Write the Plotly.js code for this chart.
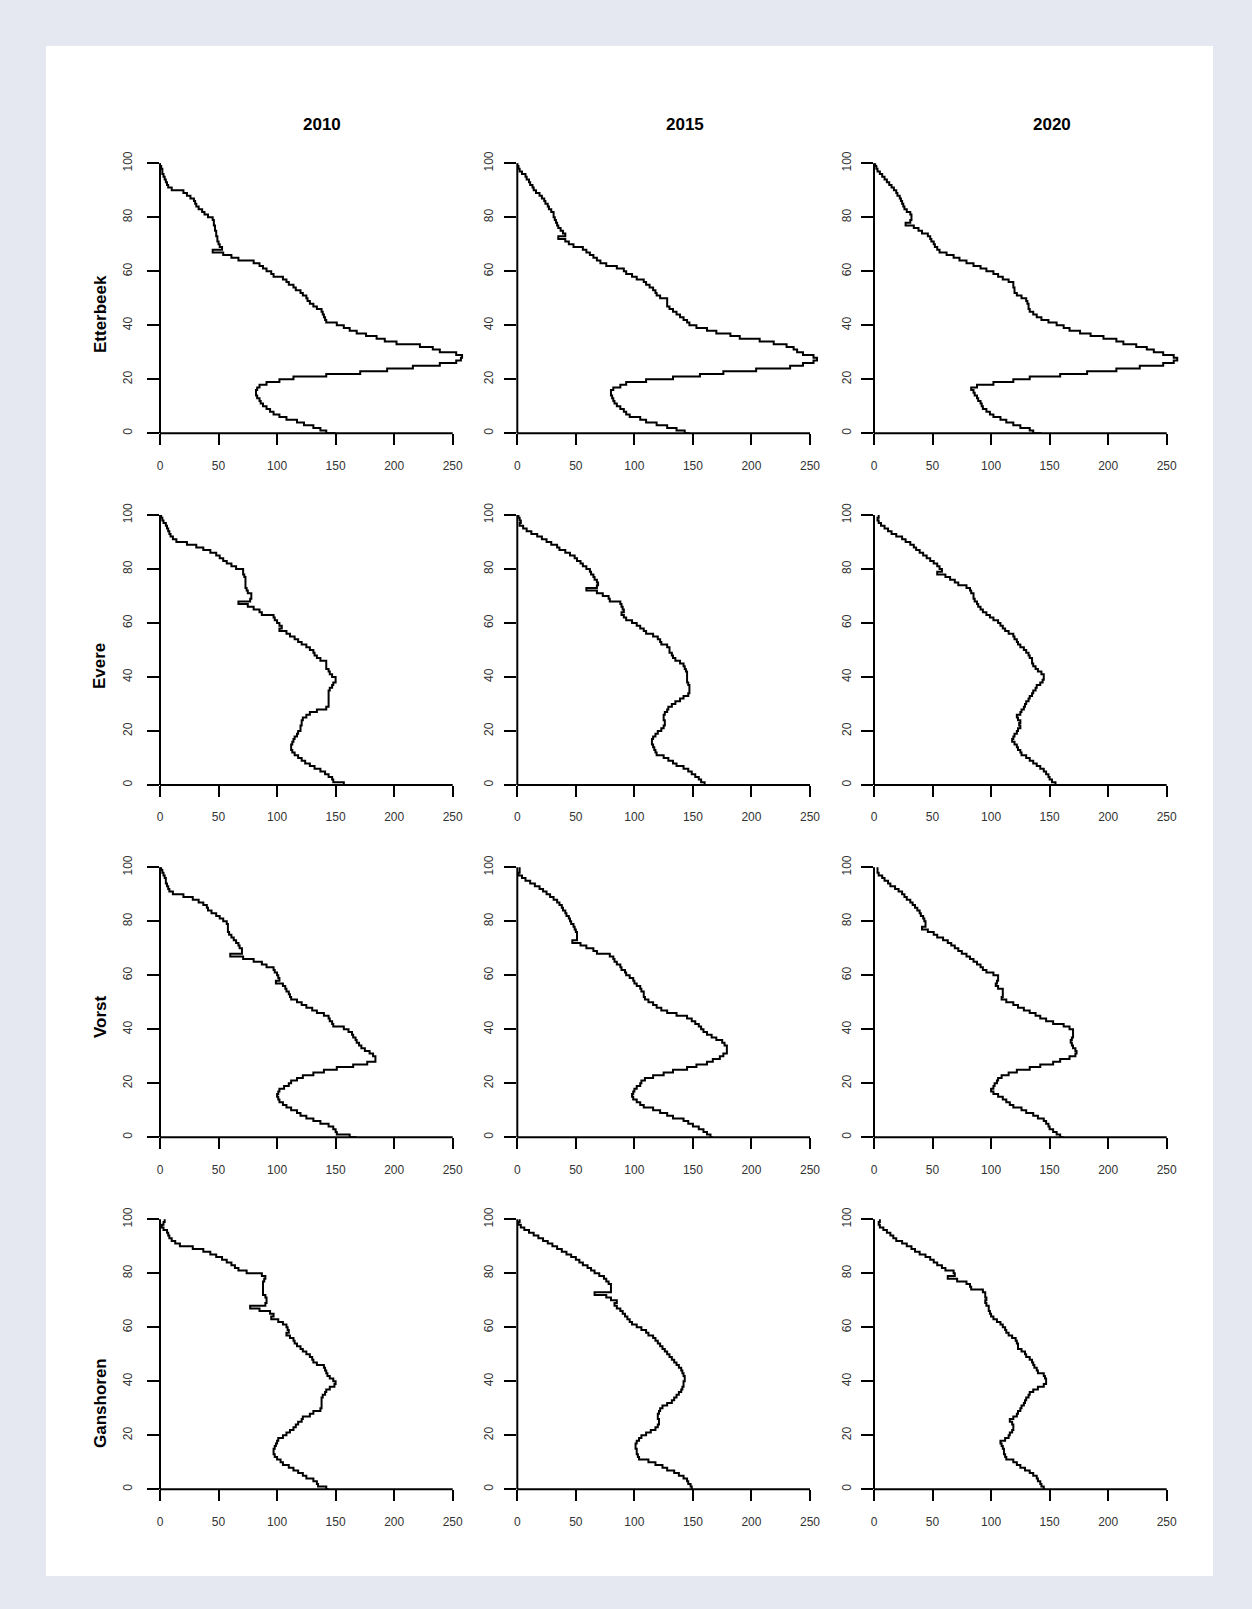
<!DOCTYPE html>
<html>
<head>
<meta charset="utf-8">
<script src="https://cdn.plot.ly/plotly-3.0.1.min.js"></script>
<style>
html,body{margin:0;padding:0;background:#e5e8f0;}
#chart{width:1252px;height:1609px;}
</style>
</head>
<body>
<div id="chart"></div>
<script>
// ---------------- DATA ----------------
const years = ["2010", "2015", "2020"];
const communes = ["Etterbeek", "Evere", "Vorst", "Ganshoren"];
const ages = [0,1,2,3,4,5,6,7,8,9,10,11,12,13,14,15,16,17,18,19,20,21,22,23,24,25,26,27,28,29,30,31,32,33,34,35,36,37,38,39,40,41,42,43,44,45,46,47,48,49,50,51,52,53,54,55,56,57,58,59,60,61,62,63,64,65,66,67,68,69,70,71,72,73,74,75,76,77,78,79,80,81,82,83,84,85,86,87,88,89,90,91,92,93,94,95,96,97,98,99,100];
const xTicks = [0, 50, 100, 150, 200, 250];
const yTicks = [0, 20, 40, 60, 80, 100];

// counts per age (0..100)
const etterbeek2010 = [150,142,137,131,123,117,108,102,97,94, 91,88,86,85,83,82,82,83,85,91, 102,114,142,171,194,216,239,253,257,258, 253,239,233,222,202,192,185,176,168,162, 157,151,142,141,140,139,138,134,131,128, 126,125,122,120,116,114,110,108,105,97, 95,91,88,85,80,67,61,54,45,53, 51,50,49,49,48,48,47,47,46,46, 45,41,38,36,33,31,30,29,26,23, 20,10,7,6,5,4,3,2,2,1, 0];
const etterbeek2015 = [147,143,136,128,119,110,105,96,93,91, 88,85,83,82,81,80,80,82,88,93, 110,133,156,176,204,233,244,253,256,253, 244,239,236,230,219,207,190,182,170,162, 153,147,145,142,139,136,133,130,128,128, 128,122,119,118,116,113,110,108,102,98, 93,91,85,76,71,68,65,62,59,56, 48,44,41,35,41,39,37,35,34,33, 32,31,31,29,27,26,24,23,21,19, 16,14,13,11,10,8,7,4,2,1, 0];
const etterbeek2020 = [143,136,133,125,119,113,108,102,99,96, 93,92,91,89,88,86,85,83,88,102, 119,133,159,182,207,227,247,256,259,256, 247,239,233,224,213,207,196,185,176,167, 162,156,149,143,139,136,133,132,132,131, 130,126,122,120,120,119,119,115,110,106, 102,96,91,85,79,73,68,62,56,54, 52,51,49,48,46,41,38,34,27,31, 32,32,31,28,26,25,24,23,22,20, 19,17,15,13,11,9,7,5,3,2, 1];
const evere2010 = [158,157,148,147,144,141,137,132,128,124, 121,118,115,113,112,112,113,114,115,117, 118,120,120,121,121,122,125,128,134,142, 144,144,144,144,144,144,145,147,148,150, 150,147,145,144,142,142,142,137,134,132, 131,128,125,121,118,115,111,108,102,104, 102,100,98,97,87,85,80,75,67,77, 78,78,75,74,73,73,73,73,72,71, 71,65,61,57,54,51,48,43,37,31, 23,14,11,9,8,7,6,5,3,2, 1];
const evere2015 = [162,160,157,155,152,149,146,142,136,133, 129,125,119,118,117,116,115,115,116,118, 120,123,125,126,126,125,125,126,128,129, 132,135,139,142,146,147,147,147,146,145, 145,145,145,144,143,142,139,135,133,132, 130,130,128,123,122,120,116,110,108,105, 102,98,93,91,89,91,90,89,88,79, 78,73,68,59,68,69,68,66,65,63, 62,59,56,54,51,49,45,41,36,34, 29,25,21,17,12,8,5,2,3,2, 1];
const evere2020 = [157,155,152,150,149,147,145,142,139,136, 133,130,126,125,123,122,120,118,119,120, 122,123,125,124,125,123,122,125,126,128, 129,130,132,133,135,136,138,139,142,144, 145,145,143,140,138,136,135,135,133,132, 130,128,125,123,122,120,119,115,112,110, 108,106,102,99,96,93,91,89,88,86, 85,85,83,82,79,72,69,65,61,54, 58,56,54,51,48,45,42,39,36,34, 31,27,24,19,15,12,9,6,4,3, 4];
const vorst2010 = [168,162,151,150,148,144,137,131,125,120, 117,112,108,105,102,101,100,101,102,106, 110,112,117,122,131,140,151,165,177,184, 184,182,179,175,172,170,168,167,165,164, 161,157,148,147,145,144,140,134,130,125, 121,117,112,111,110,108,107,105,99,102, 101,100,98,97,91,87,80,71,60,70, 70,68,67,65,63,61,59,58,58,58, 57,54,51,48,44,41,40,37,33,28, 20,11,8,7,6,5,5,4,3,2, 1];
const vorst2015 = [167,165,162,159,155,150,146,142,133,128, 122,116,108,105,102,99,98,99,100,102, 105,106,109,116,125,133,145,153,162,167, 173,176,179,179,179,177,175,170,166,162, 159,157,155,152,149,145,136,128,123,119, 116,112,109,108,108,106,105,102,100,99, 96,93,92,89,88,85,83,82,79,68, 65,59,54,47,51,51,51,50,49,48, 46,45,44,42,41,39,38,36,34,31, 28,25,22,19,15,11,7,4,1,2, 2];
const vorst2020 = [162,159,156,153,150,149,147,145,140,136, 130,126,119,116,113,110,106,102,100,102, 103,105,106,109,115,122,133,142,153,159, 167,172,173,172,170,169,168,169,170,170, 170,167,162,153,147,142,138,133,128,123, 119,113,109,110,110,110,106,104,105,106, 106,102,96,93,91,88,85,82,79,75, 72,69,66,63,59,54,51,46,41,44, 44,43,42,40,39,37,35,33,31,28, 26,24,21,18,14,12,9,7,4,3, 3];
const ganshoren2010 = [144,142,135,134,131,125,122,118,114,110, 105,103,100,98,97,97,98,99,100,101, 105,108,111,114,116,118,121,122,128,131, 137,138,138,138,138,139,141,142,145,149, 150,148,145,143,142,141,140,134,131,130, 128,125,122,120,117,115,114,111,108,110, 109,108,105,101,95,97,94,85,77,90, 91,91,90,88,88,88,88,88,89,90, 87,74,67,64,61,57,53,48,43,37, 28,17,13,10,8,7,6,3,1.5,3, 4];
const ganshoren2015 = [150,149,148,146,145,142,138,134,128,124, 118,112,104,103,102,102,101,101,102,104, 106,110,114,118,120,121,121,120,120,121, 122,124,128,132,134,136,138,140,141,142, 142,143,143,142,141,140,138,136,134,132, 130,128,126,124,122,120,118,116,112,110, 106,102,98,96,94,92,90,88,85,83, 85,80,76,66,80,80,80,78,76,74, 70,66,63,60,56,53,50,46,42,38, 34,30,26,22,18,14,10,6,3,1, 2];
const ganshoren2020 = [146,145,143,142,140,139,136,133,129,125, 122,119,113,112,111,111,110,109,108,112, 115,116,118,119,119,118,116,119,122,123, 125,126,128,129,130,132,133,136,140,145, 147,147,146,145,140,139,137,136,135,133, 130,129,126,123,123,122,121,118,115,113, 112,110,108,105,102,100,99,98,98,96, 95,96,95,95,93,83,82,79,71,63, 69,68,61,58,54,51,48,44,39,35, 32,28,24,19,16.5,14,11,8,5,4, 5];

const panelData = [
  [etterbeek2010, etterbeek2015, etterbeek2020],
  [evere2010, evere2015, evere2020],
  [vorst2010, vorst2015, vorst2020],
  [ganshoren2010, ganshoren2015, ganshoren2020]
];

// ---------------- LAYOUT GEOMETRY (pixels) ----------------
const W = 1252, H = 1609;
const colX0 = [160, 517.3, 874];          // pixel of count = 0
const rowY0 = [433.3, 785, 1137.3, 1489.3]; // pixel of age = 0
const pxX = 292.7 / 250;  // px per count unit
const pxY = 270 / 100;    // px per age unit
const XMAX = 262, YMAX = 101;
const yLabStandoff = [10, 7, 5];
const FONT = "'Liberation Sans', Arial, Helvetica, sans-serif";

const traces = [];
const layout = {
  width: W, height: H,
  margin: {l: 0, r: 0, t: 0, b: 0},
  paper_bgcolor: "#e5e8f0",
  plot_bgcolor: "rgba(0,0,0,0)",
  showlegend: false,
  font: {family: FONT, color: "#000"},
  shapes: [],
  annotations: []
};

// white panel
layout.shapes.push({type: "rect", xref: "paper", yref: "paper", layer: "below",
  x0: 46 / W, x1: 1213 / W, y0: 1 - 1576 / H, y1: 1 - 46 / H,
  fillcolor: "#ffffff", line: {width: 0}});

let k = 0;
for (let r = 0; r < communes.length; r++) {
  for (let c = 0; c < years.length; c++) {
    k++;
    const xs = k === 1 ? "" : String(k);
    const xName = "xaxis" + xs, yName = "yaxis" + xs;
    const xl = colX0[c], yb = rowY0[r];
    layout[xName] = {
      domain: [xl / W, (xl + XMAX * pxX) / W],
      range: [0, XMAX], anchor: "y" + xs,
      showgrid: false, zeroline: false, showline: false,
      tickmode: "array", tickvals: xTicks, ticktext: xTicks.map(String),
      ticks: "outside", ticklen: 11, tickwidth: 2, tickcolor: "#000",
      tickfont: {size: 12, color: "#333", family: FONT},
      ticklabelstandoff: 10, fixedrange: true
    };
    layout[yName] = {
      domain: [1 - yb / H, 1 - (yb - YMAX * pxY) / H],
      range: [0, YMAX], anchor: "x" + xs,
      showgrid: false, zeroline: false, showline: false,
      tickmode: "array", tickvals: yTicks, ticktext: yTicks.map(String),
      ticks: "outside", ticklen: 12, tickwidth: 2, tickcolor: "#000",
      tickangle: -90,
      tickfont: {size: 12, color: "#333", family: FONT},
      ticklabelstandoff: yLabStandoff[c], fixedrange: true
    };
    // axis lines (span ticks only, like R)
    layout.shapes.push({type: "line", xref: "paper", yref: "paper",
      x0: xl / W, x1: (xl + 250 * pxX) / W, y0: 1 - yb / H, y1: 1 - yb / H,
      line: {color: "#000", width: 2}});
    layout.shapes.push({type: "line", xref: "paper", yref: "paper",
      x0: xl / W, x1: xl / W, y0: 1 - yb / H, y1: 1 - (yb - 100 * pxY) / H,
      line: {color: "#000", width: 2}});
    traces.push({
      type: "scatter", mode: "lines",
      x: panelData[r][c], y: ages,
      xaxis: "x" + xs, yaxis: "y" + xs,
      line: {shape: "hv", color: "#000", width: 2},
      hoverinfo: "skip"
    });
  }
}

// column titles
const colTitleX = [321.7, 685, 1052];
years.forEach((yr, i) => {
  layout.annotations.push({xref: "paper", yref: "paper", x: colTitleX[i] / W, y: 1 - 124 / H,
    xanchor: "center", yanchor: "middle", showarrow: false, text: "<b>" + yr + "</b>",
    font: {size: 17, family: FONT, color: "#000"}});
});
// row titles
const rowTitleY = [314, 666, 1017, 1403];
communes.forEach((nm, i) => {
  layout.annotations.push({xref: "paper", yref: "paper", x: 100 / W, y: 1 - rowTitleY[i] / H,
    xanchor: "center", yanchor: "middle", showarrow: false, textangle: -90, text: "<b>" + nm + "</b>",
    font: {size: 17, family: FONT, color: "#000"}});
});

Plotly.newPlot("chart", traces, layout, {staticPlot: true, displayModeBar: false});
</script>
</body>
</html>
